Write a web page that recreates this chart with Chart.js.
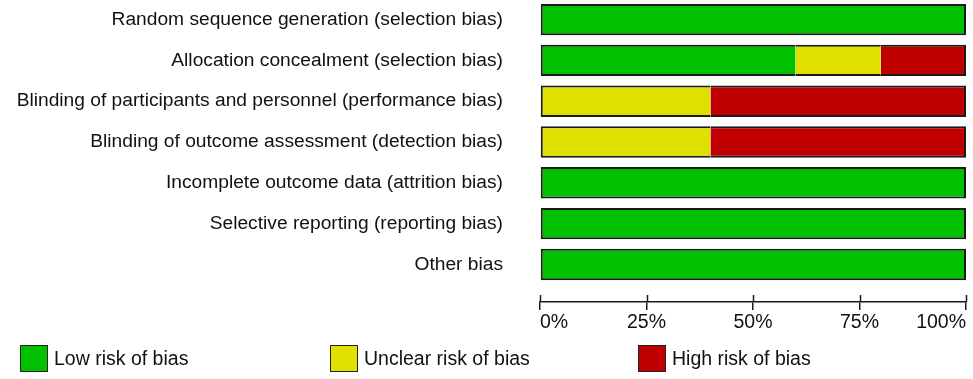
<!DOCTYPE html>
<html>
<head>
<meta charset="utf-8">
<script src="https://cdn.jsdelivr.net/npm/chart.js@4/dist/chart.umd.min.js"></script>
<style>
  html, body { margin: 0; padding: 0; background: #fff; }
  #wrap { position: relative; width: 973px; height: 379px; }
  #c { position: absolute; left: 0; top: 0; }
  .leg { position: absolute; top: 345px; display: flex; align-items: center;
         font-family: 'Liberation Sans', Arial, sans-serif; font-size: 19.5px; color: #111; }
  .leg .box { width: 28px; height: 27px; box-sizing: border-box; border: 1.5px solid #222; }
  .leg span { margin-left: 6px; line-height: 27px; }
</style>
</head>
<body>
<div id="wrap">
  <canvas id="c" width="973" height="379"></canvas>
  <div id="legend"></div>
</div>
<script>
const categories = [
  'Random sequence generation (selection bias)',
  'Allocation concealment (selection bias)',
  'Blinding of participants and personnel (performance bias)',
  'Blinding of outcome assessment (detection bias)',
  'Incomplete outcome data (attrition bias)',
  'Selective reporting (reporting bias)',
  'Other bias'
];
const lowRisk     = [100, 60,  0,  0, 100, 100, 100];
const unclearRisk = [  0, 20, 40, 40,   0,   0,   0];
const highRisk    = [  0, 20, 60, 60,   0,   0,   0];
const seriesNames = ['Low risk of bias', 'Unclear risk of bias', 'High risk of bias'];
const xTicks = [0, 25, 50, 75, 100];

const colors = ['#00C000', '#E0E000', '#C00000'];
const series = [lowRisk, unclearRisk, highRisk];
const legendLeft = [20, 330, 638];

function toPoints(arr) { return arr.map((v, i) => ({ x: v, y: i })); }

function borderFor(dsIndex) {
  return function (ctx) {
    const i = ctx.dataIndex;
    const v = series[dsIndex][i];
    if (!v) return 0;
    let first = true, last = true;
    for (let d = 0; d < dsIndex; d++) if (series[d][i]) first = false;
    for (let d = dsIndex + 1; d < series.length; d++) if (series[d][i]) last = false;
    return { top: 2, bottom: 2, left: first ? 2 : 0, right: last ? 2 : 0 };
  };
}

const datasets = series.map((arr, k) => ({
  label: seriesNames[k],
  data: toPoints(arr),
  backgroundColor: colors[k],
  borderColor: '#1a1a1a',
  borderWidth: borderFor(k),
  borderSkipped: false,
  barPercentage: 0.77,
  categoryPercentage: 1
}));

const FONT = "'Liberation Sans', Arial, sans-serif";

const upperTicks = {
  id: 'upperTicks',
  afterDraw(chart) {
    const xs = chart.scales.x;
    const ctx = chart.ctx;
    const yb = chart.chartArea.bottom;
    ctx.save();
    ctx.strokeStyle = '#1a1a1a';
    ctx.lineWidth = 1.5;
    xs.ticks.forEach(t => {
      const px = Math.round(xs.getPixelForValue(t.value)) + 0.5;
      ctx.beginPath();
      ctx.moveTo(px, yb - 7);
      ctx.lineTo(px, yb);
      ctx.stroke();
    });
    ctx.restore();
  }
};

new Chart(document.getElementById('c'), {
  type: 'bar',
  data: { datasets },
  plugins: [upperTicks],
  options: {
    indexAxis: 'y',
    responsive: false,
    animation: false,
    layout: { padding: { left: 0, right: 7, top: 0, bottom: 0 } },
    plugins: { legend: { display: false }, tooltip: { enabled: false } },
    scales: {
      x: {
        type: 'linear',
        stacked: true,
        min: 0, max: 100,
        afterFit(scale) { scale.height = 77; scale.paddingLeft = 0; scale.paddingRight = 0; },
        afterBuildTicks(scale) { scale.ticks = xTicks.map(v => ({ value: v })); },
        grid: { drawOnChartArea: false, tickLength: 8, color: '#1a1a1a', lineWidth: 1.5 },
        border: { display: true, color: '#1a1a1a', width: 1.5 },
        ticks: {
          align: 'inner',
          padding: 1,
          color: '#111',
          font: { family: FONT, size: 19.5 },
          callback: v => v + '%'
        }
      },
      y: {
        type: 'linear',
        stacked: true,
        reverse: true,
        offset: false,
        min: -0.48, max: 6.92,
        afterFit(scale) { scale.width = 540; scale.paddingTop = 0; scale.paddingBottom = 0; },
        afterBuildTicks(scale) { scale.ticks = categories.map((c, i) => ({ value: i })); },
        grid: { display: false, offset: false },
        border: { display: false },
        ticks: {
          padding: 29,
          color: '#111',
          font: { family: FONT, size: 19.2 },
          autoSkip: false,
          callback: v => categories[v]
        }
      }
    }
  }
});

const legend = document.getElementById('legend');
seriesNames.forEach((name, k) => {
  const item = document.createElement('div');
  item.className = 'leg';
  item.style.left = legendLeft[k] + 'px';
  const box = document.createElement('div');
  box.className = 'box';
  box.style.background = colors[k];
  const txt = document.createElement('span');
  txt.textContent = name;
  item.appendChild(box);
  item.appendChild(txt);
  legend.appendChild(item);
});
</script>
</body>
</html>
